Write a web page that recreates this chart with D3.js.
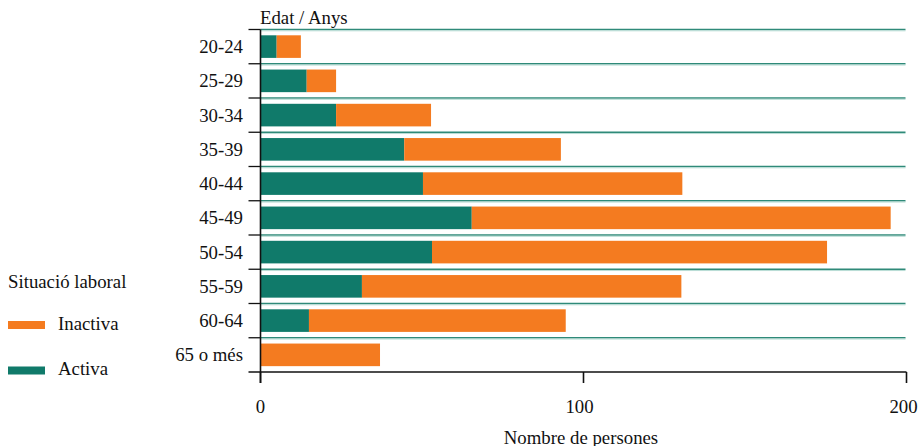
<!DOCTYPE html>
<html>
<head>
<meta charset="utf-8">
<script src="https://cdn.jsdelivr.net/npm/d3@7"></script>
<style>
html,body{margin:0;padding:0;background:#fff;}
svg{display:block;font-family:"Liberation Serif","DejaVu Serif",serif;}
</style>
</head>
<body>
<svg id="chart" width="923" height="446"></svg>
<script>
const categories = ["20-24","25-29","30-34","35-39","40-44","45-49","50-54","55-59","60-64","65 o més"];
const activa   = [5, 14.3, 23.4, 44.5, 50.3, 65.4, 53.1, 31.4, 15, 0];
const inactiva = [7.5, 9.1, 29.4, 48.5, 80.3, 129.7, 122.3, 98.9, 79.5, 37];
const xTicks = [0, 100, 200];
const seriesNames = ["Inactiva", "Activa"];
const colors = {Activa: "#107a6a", Inactiva: "#f47b20"};

(function(){
const svg = d3.select("#chart");
const mLeft = 260.5, mRight = 906.5, mTop = 29.5, mBottom = 372;
const fs = 18.8;

const x = d3.scaleLinear().domain([0, 200]).range([mLeft, mRight]);
const y = d3.scaleBand().domain(categories).range([mTop, mBottom]).paddingInner(0).paddingOuter(0);

// gridlines at band tops
const grid = svg.append("g");
categories.forEach(c => {
  const yy = y(c);
  grid.append("line").attr("x1", mLeft).attr("x2", mRight - 1).attr("y1", yy).attr("y2", yy)
    .attr("stroke", "#2f8a79").attr("stroke-width", 1.3);
  grid.append("line").attr("x1", mLeft).attr("x2", mRight - 1).attr("y1", yy + 1.3).attr("y2", yy + 1.3)
    .attr("stroke", "#b7dcd4").attr("stroke-width", 1);
});

// bars
const data = categories.map((c, i) => ({cat: c, Activa: activa[i], Inactiva: inactiva[i]}));
const stack = d3.stack().keys(["Activa", "Inactiva"])(data);
svg.append("g").selectAll("g").data(stack).join("g")
  .attr("fill", d => colors[d.key])
  .selectAll("rect").data(d => d).join("rect")
  .attr("x", d => x(d[0]))
  .attr("width", d => Math.max(0, x(d[1]) - x(d[0])))
  .attr("y", d => y(d.data.cat) + 5.8)
  .attr("height", 22.6);

// y axis
const yAxis = svg.append("g");
yAxis.append("line").attr("x1", mLeft).attr("x2", mLeft).attr("y1", mTop).attr("y2", mBottom + 11)
  .attr("stroke", "#111").attr("stroke-width", 1.6);
categories.forEach(c => {
  yAxis.append("line").attr("x1", mLeft - 12).attr("x2", mLeft).attr("y1", y(c)).attr("y2", y(c))
    .attr("stroke", "#111").attr("stroke-width", 1.3);
  yAxis.append("text").attr("x", 243).attr("y", y(c) + 5.8 + 11.3)
    .attr("text-anchor", "end").attr("dominant-baseline", "central")
    .attr("font-size", fs).attr("fill", "#111").text(c);
});

// x axis
const xAxis = svg.append("g");
xAxis.append("line").attr("x1", mLeft - 12).attr("x2", mRight).attr("y1", mBottom).attr("y2", mBottom)
  .attr("stroke", "#111").attr("stroke-width", 1.6);
xTicks.forEach(t => {
  xAxis.append("line").attr("x1", x(t)).attr("x2", x(t)).attr("y1", mBottom).attr("y2", mBottom + 11)
    .attr("stroke", "#111").attr("stroke-width", 1.6);
  xAxis.append("text").attr("x", t === 200 ? x(t) - 3 : (t === 100 ? x(t) - 4 : x(t))).attr("y", 406)
    .attr("text-anchor", "middle").attr("dominant-baseline", "central")
    .attr("font-size", fs).attr("fill", "#111").text(t);
});

svg.append("text").attr("x", 581).attr("y", 437).attr("text-anchor", "middle")
  .attr("dominant-baseline", "central").attr("font-size", fs).attr("fill", "#111").text("Nombre de persones");
svg.append("text").attr("x", 260).attr("y", 24).attr("font-size", fs).attr("fill", "#111").text("Edat / Anys");

// legend
const lg = svg.append("g");
lg.append("text").attr("x", 8).attr("y", 281).attr("dominant-baseline", "central")
  .attr("font-size", fs).attr("fill", "#111").text("Situació laboral");
seriesNames.forEach((s, i) => {
  const cy = 325 + i * 45.5;
  lg.append("rect").attr("x", 8).attr("y", cy - 4).attr("width", 37).attr("height", 8).attr("fill", colors[s]);
  lg.append("text").attr("x", 58).attr("y", cy - 2).attr("dominant-baseline", "central")
    .attr("font-size", fs).attr("fill", "#111").text(s);
});
})();
</script>
</body>
</html>
